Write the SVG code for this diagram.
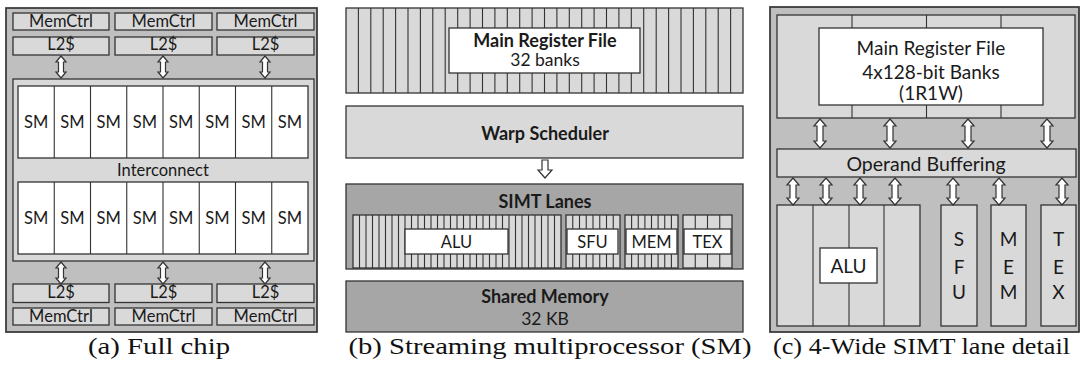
<svg xmlns="http://www.w3.org/2000/svg" xmlns:xlink="http://www.w3.org/1999/xlink" width="1084" height="371" viewBox="0 0 1084 371">
<style>
.frame{fill:#bfbfbf;stroke:#333333;stroke-width:1.7}
.lt{fill:#d9d9d9;stroke:#333333;stroke-width:1.3}
.dk{fill:#a6a6a6;stroke:#333333;stroke-width:1.3}
.wh{fill:#ffffff;stroke:#333333;stroke-width:1.3}
.ln{fill:none;stroke:#333333;stroke-width:1.1}
.arr{fill:#ffffff;stroke:#333333;stroke-width:1.2;stroke-linejoin:miter}
text{font-family:Lato,"Open Sans","Liberation Sans",sans-serif;fill:#1a1a1a;text-anchor:middle}
.t16{font-size:16.5px}
.t18{font-size:19px}
.b17{font-size:18px;font-weight:bold}
.cap{font-family:"Liberation Serif","DejaVu Serif",serif;font-size:23px;fill:#111}
</style>
<defs>
<polygon id="arrA" points="0,0 5,6 2.5,6 2.5,16 5,16 0,22 -5,16 -2.5,16 -2.5,6 -5,6"/>
<polygon id="arrC1" points="0,0 6,7 3,7 3,22 6,22 0,29 -6,22 -3,22 -3,7 -6,7"/>
<polygon id="arrC2" points="0,0 6,7 3,7 3,20 6,20 0,27 -6,20 -3,20 -3,7 -6,7"/>
<polygon id="arrDown" points="-3,0 3,0 3,10 7,10 0,18 -7,10 -3,10"/>
</defs>

<!-- Panel (a) Full chip -->
<g id="panel-a">
  <rect class="frame" x="6" y="8" width="311" height="324"/>
</g>
<g id="a-memctrl-top">
  <rect class="lt" x="13" y="13" width="96" height="17"/>
  <rect class="lt" x="115" y="13" width="97" height="17"/>
  <rect class="lt" x="217" y="13" width="97" height="17"/>
  <text class="t16" x="61" y="27">MemCtrl</text>
  <text class="t16" x="163.5" y="27">MemCtrl</text>
  <text class="t16" x="265.5" y="27">MemCtrl</text>
</g>
<g id="a-l2-top">
  <rect class="lt" x="13" y="37" width="96" height="18"/>
  <rect class="lt" x="115" y="37" width="97" height="18"/>
  <rect class="lt" x="217" y="37" width="97" height="18"/>
  <text class="t16" x="61" y="50">L2$</text>
  <text class="t16" x="163.5" y="50">L2$</text>
  <text class="t16" x="265.5" y="50">L2$</text>
</g>
<g id="a-sm-array">
  <rect class="lt" x="13" y="79" width="301" height="182"/>
  <rect class="wh" x="18" y="86" width="290" height="72"/>
  <rect class="wh" x="18" y="182" width="290" height="72"/>
  <path class="ln" d="M54.25 86V158M90.5 86V158M126.75 86V158M163 86V158M199.25 86V158M235.5 86V158M271.75 86V158M54.25 182V254M90.5 182V254M126.75 182V254M163 182V254M199.25 182V254M235.5 182V254M271.75 182V254"/>
  <g class="t16">
    <text x="36.1" y="128">SM</text><text x="72.4" y="128">SM</text><text x="108.6" y="128">SM</text><text x="144.9" y="128">SM</text>
    <text x="181.1" y="128">SM</text><text x="217.4" y="128">SM</text><text x="253.6" y="128">SM</text><text x="289.9" y="128">SM</text>
    <text x="36.1" y="224">SM</text><text x="72.4" y="224">SM</text><text x="108.6" y="224">SM</text><text x="144.9" y="224">SM</text>
    <text x="181.1" y="224">SM</text><text x="217.4" y="224">SM</text><text x="253.6" y="224">SM</text><text x="289.9" y="224">SM</text>
  </g>
  <text class="t16" x="163" y="176">Interconnect</text>
</g>
<g id="a-l2-bottom">
  <rect class="lt" x="13" y="284" width="96" height="18.5"/>
  <rect class="lt" x="115" y="284" width="97" height="18.5"/>
  <rect class="lt" x="217" y="284" width="97" height="18.5"/>
  <text class="t16" x="61" y="298">L2$</text>
  <text class="t16" x="163.5" y="298">L2$</text>
  <text class="t16" x="265.5" y="298">L2$</text>
</g>
<g id="a-memctrl-bottom">
  <rect class="lt" x="13" y="308" width="96" height="17"/>
  <rect class="lt" x="115" y="308" width="97" height="17"/>
  <rect class="lt" x="217" y="308" width="97" height="17"/>
  <text class="t16" x="61" y="322">MemCtrl</text>
  <text class="t16" x="163.5" y="322">MemCtrl</text>
  <text class="t16" x="265.5" y="322">MemCtrl</text>
</g>

<!-- Panel (b) SM -->
<g id="b-register-file">
  <rect class="lt" x="346" y="8" width="397" height="85"/>
  <path class="ln" d="M358.4 8V93M370.8 8V93M383.2 8V93M395.6 8V93M408 8V93M420.4 8V93M432.8 8V93M445.2 8V93M457.7 8V93M470.1 8V93M482.5 8V93M494.9 8V93M507.3 8V93M519.7 8V93M532.1 8V93M544.5 8V93M556.9 8V93M569.3 8V93M581.7 8V93M594.1 8V93M606.5 8V93M618.9 8V93M631.3 8V93M643.7 8V93M656.2 8V93M668.6 8V93M681 8V93M693.4 8V93M705.8 8V93M718.2 8V93M730.6 8V93"/>
  <rect class="wh" x="449" y="28" width="191" height="45"/>
  <text class="b17" x="545" y="47">Main Register File</text>
  <text class="t16" x="545" y="66" style="font-size:17.5px">32 banks</text>
</g>
<g id="b-warp-scheduler">
  <rect class="lt" x="346" y="106" width="397" height="52"/>
  <text class="b17" x="545" y="140">Warp Scheduler</text>
</g>
<g id="b-simt-lanes">
  <rect class="dk" x="346" y="184" width="397" height="85"/>
  <text class="b17" x="545" y="208">SIMT Lanes</text>
  <rect class="lt" x="353" y="215" width="208" height="53"/>
  <rect class="lt" x="566" y="215" width="54" height="53"/>
  <rect class="lt" x="625" y="215" width="53" height="53"/>
  <rect class="lt" x="683" y="215" width="49" height="53"/>
  <path class="ln" d="M359.5 215V268M366 215V268M372.5 215V268M379 215V268M385.5 215V268M392 215V268M398.5 215V268M405 215V268M411.5 215V268M418 215V268M424.5 215V268M431 215V268M437.5 215V268M444 215V268M450.5 215V268M457 215V268M463.5 215V268M470 215V268M476.5 215V268M483 215V268M489.5 215V268M496 215V268M502.5 215V268M509 215V268M515.5 215V268M522 215V268M528.5 215V268M535 215V268M541.5 215V268M548 215V268M554.5 215V268M572.75 215V268M579.5 215V268M586.25 215V268M593 215V268M599.75 215V268M606.5 215V268M613.25 215V268M631.6 215V268M638.25 215V268M644.9 215V268M651.5 215V268M658.1 215V268M664.75 215V268M671.4 215V268M695.25 215V268M707.5 215V268M719.75 215V268"/>
  <rect class="wh" x="405" y="229" width="103" height="25"/>
  <rect class="wh" x="567" y="229" width="51" height="25"/>
  <rect class="wh" x="626" y="229" width="51" height="25"/>
  <rect class="wh" x="684" y="229" width="47" height="25"/>
  <text class="t16" x="456.5" y="248">ALU</text>
  <text class="t16" x="592.5" y="248">SFU</text>
  <text class="t16" x="651.5" y="248">MEM</text>
  <text class="t16" x="707.5" y="248">TEX</text>
</g>
<g id="b-shared-memory">
  <rect class="dk" x="346" y="281" width="397" height="51"/>
  <text class="b17" x="545" y="303">Shared Memory</text>
  <text class="t16" x="545" y="325" style="font-size:17.5px">32 KB</text>
</g>

<!-- Panel (c) SIMT lane detail -->
<g id="panel-c">
  <rect class="frame" x="770" y="7" width="309" height="325"/>
</g>
<g id="c-register-file">
  <rect class="lt" x="777" y="15" width="298" height="103"/>
  <path class="ln" d="M852 15V118M926.5 15V118M1001 15V118"/>
  <rect class="wh" x="819" y="28" width="224" height="77"/>
  <text class="t18" x="931" y="55">Main Register File</text>
  <text class="t18" x="931" y="79">4x128-bit Banks</text>
  <text class="t18" x="931" y="100">(1R1W)</text>
</g>
<g id="c-operand-buffering">
  <rect class="lt" x="777" y="149" width="299" height="28"/>
  <text class="t18" x="926" y="171" style="font-size:19.5px">Operand Buffering</text>
</g>
<g id="c-alu">
  <rect class="lt" x="777" y="205" width="143" height="121"/>
  <path class="ln" d="M813 205V326M849 205V326M884 205V326"/>
  <rect class="wh" x="820" y="248" width="57" height="35"/>
  <text class="t18" x="848.5" y="273">ALU</text>
</g>
<g id="c-sfu">
  <rect class="lt" x="941" y="205" width="36" height="121"/>
  <text class="t18" x="959" y="246">S</text>
  <text class="t18" x="959" y="274">F</text>
  <text class="t18" x="959" y="299">U</text>
</g>
<g id="c-mem">
  <rect class="lt" x="991" y="205" width="35" height="121"/>
  <text class="t18" x="1008.5" y="246">M</text>
  <text class="t18" x="1008.5" y="274">E</text>
  <text class="t18" x="1008.5" y="299">M</text>
</g>
<g id="c-tex">
  <rect class="lt" x="1041" y="205" width="35" height="121"/>
  <text class="t18" x="1058.5" y="246">T</text>
  <text class="t18" x="1058.5" y="274">E</text>
  <text class="t18" x="1058.5" y="299">X</text>
</g>

<!-- Connectors -->
<g id="connectors" class="arr">
  <use xlink:href="#arrA" href="#arrA" x="61" y="56"/>
  <use xlink:href="#arrA" href="#arrA" x="163" y="56"/>
  <use xlink:href="#arrA" href="#arrA" x="265" y="56"/>
  <use xlink:href="#arrA" href="#arrA" x="61" y="262"/>
  <use xlink:href="#arrA" href="#arrA" x="163" y="262"/>
  <use xlink:href="#arrA" href="#arrA" x="265" y="262"/>
  <use xlink:href="#arrDown" href="#arrDown" x="545" y="160"/>
  <use xlink:href="#arrC1" href="#arrC1" x="820" y="119"/>
  <use xlink:href="#arrC1" href="#arrC1" x="890" y="119"/>
  <use xlink:href="#arrC1" href="#arrC1" x="968" y="119"/>
  <use xlink:href="#arrC1" href="#arrC1" x="1047" y="119"/>
  <use xlink:href="#arrC2" href="#arrC2" x="793" y="178"/>
  <use xlink:href="#arrC2" href="#arrC2" x="826" y="178"/>
  <use xlink:href="#arrC2" href="#arrC2" x="860" y="178"/>
  <use xlink:href="#arrC2" href="#arrC2" x="895" y="178"/>
  <use xlink:href="#arrC2" href="#arrC2" x="953" y="178"/>
  <use xlink:href="#arrC2" href="#arrC2" x="999" y="178"/>
  <use xlink:href="#arrC2" href="#arrC2" x="1062" y="178"/>
</g>

<!-- Captions -->
<g id="captions">
  <text class="cap" x="159" y="354" textLength="142" lengthAdjust="spacingAndGlyphs">(a) Full chip</text>
  <text class="cap" x="550" y="354" textLength="403" lengthAdjust="spacingAndGlyphs">(b) Streaming multiprocessor (SM)</text>
  <text class="cap" x="921.5" y="354" textLength="297" lengthAdjust="spacingAndGlyphs">(c) 4-Wide SIMT lane detail</text>
</g>
</svg>
